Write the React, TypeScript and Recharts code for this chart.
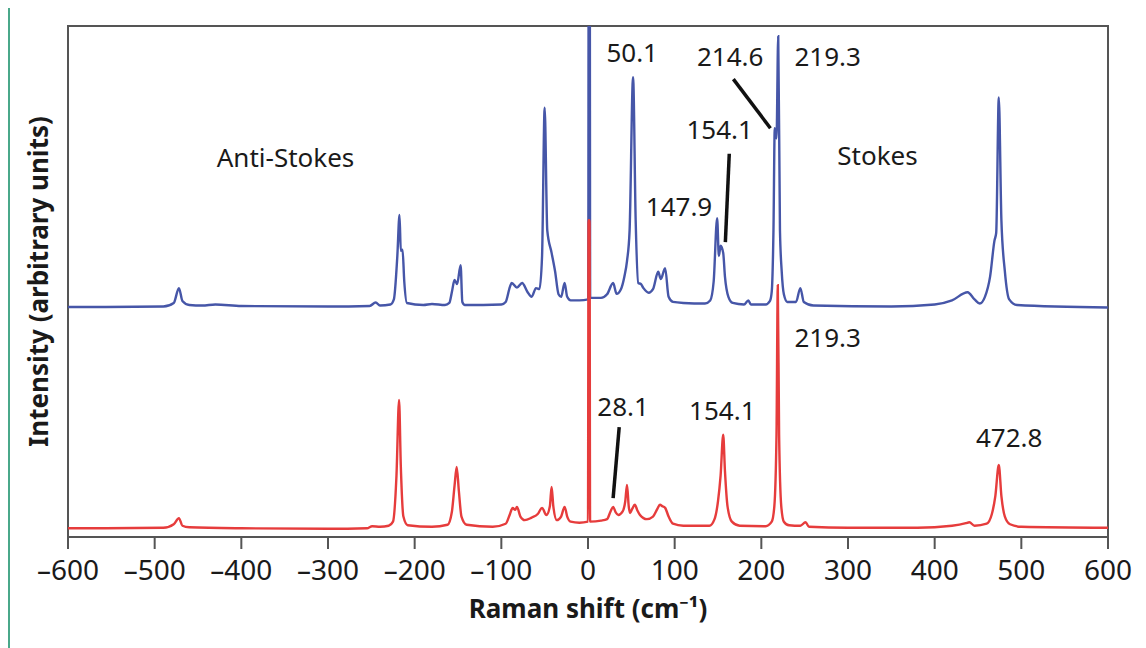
import React from "react";
import { LineChart, Line, XAxis, YAxis, ReferenceArea, ReferenceLine, ReferenceDot } from "recharts";

// values, in the plot's arbitrary intensity units (0-100)
const blueShift = [
  -600, -490, -478, -472, -468, -460, -445, -430, -400, -300, -252, -245, -240, -228, -224, -220, -217.5, -216, -214, -212, -209,
  -190, -180, -165, -160, -157, -154, -151, -147, -145, -142, -100, -95, -90, -88, -82, -76, -70, -65, -60, -56, -53, -50, -47,
  -42, -38, -34, -31, -27, -24, -20, -10, 0.3, 0.8, 2, 2.5, 15, 22, 29, 33, 38, 42, 45, 48, 52, 55, 58, 61, 64, 70, 75, 81, 84,
  89, 93, 98, 110, 135, 141, 145, 149, 151, 153, 156, 158, 162, 167, 180, 185, 188, 205, 210, 212, 214, 215.5, 217.5, 219.5,
  221.5, 223.5, 226, 230, 240, 245, 249, 260, 350, 400, 420, 438, 446, 452, 458, 464, 469, 471, 474, 477, 481, 486, 495, 600,
];
const blueIntensity = [
  45.0, 45.1, 45.8, 48.7, 46.2, 45.4, 45.3, 45.5, 45.2, 45.1, 45.2, 45.9, 45.3, 45.5, 46.5, 55, 63, 56, 56.2, 50, 45.8,
  45.4, 45.6, 45.4, 45.8, 48, 50.3, 49.5, 53.2, 46, 45.4, 45.5, 46, 49, 49.7, 48.8, 49.7, 48, 47, 48.7, 48.5, 55, 84, 60,
  55.6, 52, 47.5, 47, 49.7, 47, 46.3, 46.3, 46.5, 120, 120, 46.8, 46.8, 47.5, 49.7, 47.6, 48.5, 51, 54, 60, 90, 62, 49.7, 49.5, 48.7, 47.8, 48.5, 51.9, 50.5,
  52.6, 47, 46, 45.8, 45.7, 46.3, 50, 62.4, 55, 57, 55.6, 51, 47, 45.8, 45.5, 46.3, 45.5, 45.5, 46.2, 48, 60, 80, 78, 98,
  60, 52, 47.5, 46, 46, 48.7, 46, 45.3, 45.1, 45.5, 46.3, 47.9, 46.5, 45.7, 47, 51, 58, 59.5, 86, 62, 52, 46.5, 45.4, 44.9,
];

const redShift = [
  -600, -490, -478, -472, -468, -460, -400, -300, -255, -249, -240, -230, -225, -221, -218, -216, -213, -208, -180, -162, -157,
  -154, -151.5, -149, -146, -140, -110, -95, -90, -87, -84, -82, -78, -73, -65, -58, -53, -48, -44, -42, -40, -36, -31, -27,
  -24, -20, -10, 0, 0.6, 1.8, 2.4, 15, 22, 26, 29, 32, 35, 40, 43, 45, 47, 48.6, 51, 54, 57, 60, 64, 68, 75, 80, 83, 86, 89,
  93, 98, 110, 140, 146, 150, 153, 156, 158, 161, 166, 175, 205, 212, 215, 217.5, 219, 220.5, 223, 226, 232, 245, 251, 255,
  300, 380, 420, 436, 440, 446, 460, 466, 470, 474, 477, 481, 487, 500, 600,
];
const redIntensity = [
  1.7, 1.8, 2.5, 3.7, 2.2, 1.9, 1.7, 1.6, 1.7, 2.1, 2.0, 2.2, 3, 12, 26.8, 14, 4, 2.3, 2.0, 2.4, 5,
  10, 13.7, 9, 4, 2.4, 2.0, 2.6, 4.5, 5.7, 5.3, 5.9, 4, 3.3, 3.8, 4.5, 5.7, 4.3, 6, 9.8, 6, 3.3, 4, 5.9,
  4, 3, 2.8, 3, 62, 62, 3, 3.2, 3.5, 5, 5.9, 4.8, 4.3, 5, 7, 10.2, 6, 4.7, 5.5, 6.3, 5.2, 4.3, 3.7, 3.5, 4, 5.5, 6.3, 6, 5.7,
  4, 2.6, 2.2, 2.2, 3.5, 7, 12, 20, 13, 6, 3, 2.2, 2.1, 3, 6, 20, 49.3, 20, 6, 3, 2.3, 2.2, 2.9, 2.0,
  1.8, 1.8, 2.2, 2.7, 2.9, 2.2, 2.6, 4.5, 8, 14.1, 8, 4, 2.5, 2.0, 1.8,
];

const xTicks = [-600, -500, -400, -300, -200, -100, 0, 100, 200, 300, 400, 500, 600];

const labelText = ["Anti-Stokes", "Stokes", "50.1", "214.6", "219.3", "154.1", "147.9", "219.3", "28.1", "154.1", "472.8"];
const labelX = [-349, 334, 51, 164, 276.5, 152, 105, 276.5, 40.5, 155, 486];
const labelY = [74.2, 74.6, 94.7, 94, 94, 79.6, 64.6, 39, 25.4, 24.7, 19.4];

// leader lines: [x1, y1, x2, y2]
const leaders = [
  [167.7, 89.6, 210.5, 80],
  [163, 75, 158.5, 57.7],
  [36, 21.5, 29, 7.6],
];

const blueData = blueShift.map((x, i) => ({ x, y: blueIntensity[i] }));
const redData = redShift.map((x, i) => ({ x, y: redIntensity[i] }));

const fmt = (v: number) => (v < 0 ? `\u2013${-v}` : `${v}`);
const font = "'Noto Sans', sans-serif";

export default function App() {
  return (
    <div style={{ borderLeft: "2px solid #4aa88a", width: 1128, height: 640 }}>
      <LineChart width={1128} height={640} margin={{ top: 18, right: 30, bottom: 10, left: 0 }} style={{ fontFamily: font }}>
        <XAxis
          type="number"
          dataKey="x"
          domain={[-600, 600]}
          ticks={xTicks}
          tickFormatter={fmt}
          height={101}
          tickSize={12}
          tickMargin={11}
          axisLine={{ stroke: "#555", strokeWidth: 2 }}
          tickLine={{ stroke: "#555", strokeWidth: 2 }}
          tick={{ fontSize: 28, fill: "#1a1a1a", fontFamily: font }}
          label={{
            value: "Raman shift (cm\u207B\u00B9)",
            position: "insideBottom",
            offset: 20,
            fontSize: 26,
            fontWeight: 700,
            fill: "#1a1a1a",
            fontFamily: font,
          }}
        />
        <YAxis
          type="number"
          domain={[0, 100]}
          allowDataOverflow
          width={58}
          axisLine={false}
          tickLine={false}
          tick={false}
          label={{
            value: "Intensity (arbitrary units)",
            angle: -90,
            position: "center",
            fontSize: 26,
            fontWeight: 700,
            fill: "#1a1a1a",
            fontFamily: font,
          }}
        />
        <Line data={blueData} dataKey="y" type="monotone" stroke="#4656a8" strokeWidth={2.4} dot={false} isAnimationActive={false} />
        <Line data={redData} dataKey="y" type="monotone" stroke="#e63c3c" strokeWidth={2.4} dot={false} isAnimationActive={false} />
        {leaders.map((l, i) => (
          <ReferenceLine
            key={i}
            segment={[{ x: l[0], y: l[1] }, { x: l[2], y: l[3] }]}
            stroke="#111"
            strokeWidth={3.5}
            ifOverflow="visible"
          />
        ))}
        {labelText.map((t, i) => (
          <ReferenceDot
            key={i}
            x={labelX[i]}
            y={labelY[i]}
            r={0}
            fill="none"
            stroke="none"
            ifOverflow="visible"
            label={{ value: t, position: "center", fontSize: 26, fill: "#1a1a1a", fontFamily: font }}
          />
        ))}
        <ReferenceArea x1={-600} x2={600} y1={0} y2={100} fill="none" stroke="#555" strokeWidth={2} ifOverflow="visible" />
      </LineChart>
    </div>
  );
}
